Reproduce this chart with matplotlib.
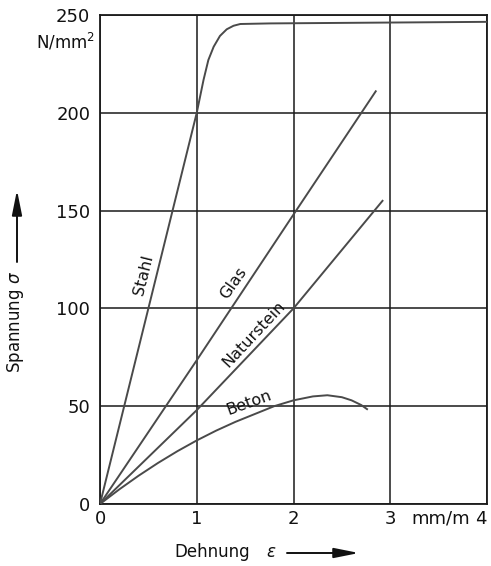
import matplotlib
matplotlib.use("Agg")
import matplotlib.pyplot as plt
from matplotlib.patches import FancyArrowPatch

plt.rcParams['font.family'] = ['DejaVu Sans']

# strain (mm/m) and stress (N/mm2)
stahl_x = [0, 1.0, 1.07, 1.12, 1.175, 1.24, 1.31, 1.38, 1.45, 1.76, 4.0]
stahl_y = [0, 200, 216.8, 227, 233.8, 239.3, 242.7, 244.5, 245.4, 245.7, 246.5]

glas_x = [0, 1.0, 2.0, 2.85]
glas_y = [0, 73.5, 148, 211]

natur_x = [0, 1.0, 2.0, 2.92]
natur_y = [0, 48, 100, 155]

beton_x = [0, 0.2, 0.4, 0.6, 0.8, 1.0, 1.2, 1.4, 1.6, 1.8, 2.0, 2.2,
           2.35, 2.5, 2.6, 2.7, 2.76]
beton_y = [0, 7.5, 14.5, 21, 27, 32.5, 37.5, 42, 46, 50, 53, 55,
           55.6, 54.6, 53, 50.6, 48.5]

x_ticks = [0, 1, 2, 3, 4]
y_ticks = [0, 50, 100, 150, 200, 250]

fig = plt.figure(figsize=(4.91, 5.66), dpi=100)
ax = fig.add_axes([100/491, 62/566, 387/491, 489/566])

line_col = '#4a4a4a'
for xs, ys in [(stahl_x, stahl_y), (glas_x, glas_y), (natur_x, natur_y), (beton_x, beton_y)]:
    ax.plot(xs, ys, color=line_col, lw=1.4, zorder=3, solid_joinstyle='round')

ax.set_xlim(0, 4)
ax.set_ylim(0, 250)
ax.set_xticks(x_ticks)
ax.set_yticks(y_ticks)
ax.set_xticklabels([str(v) for v in x_ticks])
ax.set_yticklabels([str(v) for v in y_ticks])
ax.tick_params(length=0, labelsize=13, colors='#111111')
ax.tick_params(axis='y', pad=7)
ax.tick_params(axis='x', pad=4)
ax.get_xticklabels()[-1].set_ha('right')
ax.grid(True, color='#1a1a1a', lw=1.1)
for s in ax.spines.values():
    s.set_color('#1a1a1a')
    s.set_linewidth(1.3)

# curve labels
lab_kw = dict(fontsize=11.5, ha='center', va='center', color='#111111', zorder=4)
ax.text(0.45, 117, 'Stahl', rotation=76, **lab_kw)
ax.text(1.38, 113, 'Glas', rotation=55, **lab_kw)
ax.text(1.59, 87, 'Naturstein', rotation=47, **lab_kw)
ax.text(1.54, 52, 'Beton', rotation=20, **lab_kw)

# units
ax.text(-0.05, 236, 'N/mm$^2$', ha='right', va='center', fontsize=12,
        color='#111111', clip_on=False)
ax.annotate('mm/m', xy=(3.52, 0), xycoords=ax.get_xaxis_transform(),
            xytext=(0, -4), textcoords='offset points', ha='center', va='top',
            fontsize=13, color='#111111')

# axis titles with arrows
fig.text(16/491, 1 - 322/566, 'Spannung $\\sigma$', rotation=90, ha='center',
         va='center', fontsize=12, color='#111111')
fig.text(212/491, 1 - 557/566, 'Dehnung', ha='center',
         va='baseline', fontsize=12, color='#111111')
fig.text(271/491, 1 - 557/566, '$\\varepsilon$', ha='center',
         va='baseline', fontsize=12, color='#111111')
arrow = dict(arrowstyle='-|>,head_length=1.5,head_width=0.3', color='#111111',
             lw=1.4, shrinkA=0, shrinkB=0, mutation_scale=10)
fig.add_artist(FancyArrowPatch((17/491, 1 - 262/566), (17/491, 1 - 190/566),
                               transform=fig.transFigure, **arrow))
fig.add_artist(FancyArrowPatch((287/491, 1 - 553/566), (359/491, 1 - 553/566),
                               transform=fig.transFigure, **arrow))

fig.savefig('out.png', dpi=100)
